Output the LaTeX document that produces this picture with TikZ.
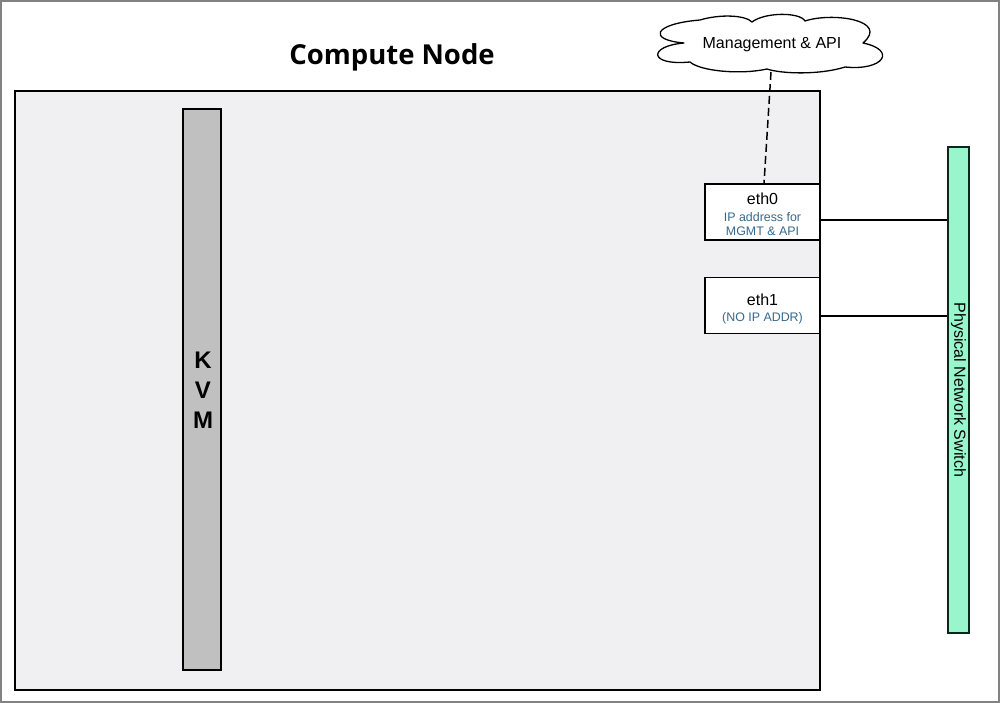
\documentclass[tikz,border=0pt]{standalone}
\usepackage{fontspec}
\setmainfont{Liberation Sans}
\newfontfamily\titlefont{Open Sans}
\definecolor{nodefill}{RGB}{240,240,242}
\definecolor{kvmfill}{RGB}{192,192,192}
\definecolor{swfill}{RGB}{153,245,204}
\definecolor{swline}{RGB}{10,40,25}
\definecolor{iptext}{RGB}{55,105,140}
\definecolor{framegray}{RGB}{130,130,130}
\tikzset{
  boxline/.style={draw=black, line width=1.5pt},
  ethbox/.style={boxline, fill=white, minimum width=115pt, minimum height=56pt, inner sep=0pt},
  link/.style={draw=black, line width=1.5pt},
  lbl/.style={font=\fontsize{16}{18}\selectfont, inner sep=0pt},
  iplbl/.style={font=\fontsize{12.4}{14.5}\selectfont, text=iptext, align=center, inner sep=0pt},
}
\begin{document}
\begin{tikzpicture}[x=1pt,y=-1pt]
\useasboundingbox (0,0) rectangle (1000,703);
\draw[framegray, line width=2pt] (1,1) rectangle (999,702);
% compute node
\node[boxline, fill=nodefill, minimum width=805pt, minimum height=599pt, inner sep=0pt] (cn) at (417.5,390.5) {};
\node[font=\titlefont\bfseries\fontsize{27.5}{30}\selectfont] (title) at (392,57) {Compute Node};
% KVM
\node[boxline, fill=kvmfill, minimum width=38pt, minimum height=561pt, inner sep=0pt] (kvm) at (202,389.5) {};
\node[font=\bfseries\fontsize{24}{30}\selectfont, align=center] (kvmt) at (203,390) {K\\[0pt]V\\[0pt]M};
% eth boxes
\node[ethbox] (eth0) at (762.5,212) {};
\node[lbl] (eth0t) at (762.5,199) {eth0};
\node[iplbl] (eth0ip) at (762.5,224) {IP address for\\MGMT \& API};
\node[ethbox] (eth1) at (762.5,305.5) {};
\node[lbl] (eth1t) at (762.5,299.5) {eth1};
\node[iplbl] (eth1ip) at (762.5,318) {(NO IP ADDR)};
% switch
\node[draw=swline, line width=1.5pt, fill=swfill, minimum width=21pt, minimum height=486pt, inner sep=0pt] (sw) at (958.5,390) {};
\node[rotate=-90, lbl] (swt) at (958.5,390) {Physical Network Switch};
% cloud
\draw[black, line width=1.3pt, fill=white, line join=round]
  (684,43) .. controls (648,40) and (652,24) .. (700,20)
  .. controls (720,14) and (745,15) .. (752,22)
  .. controls (765,12) and (800,12) .. (805,21)
  .. controls (832,12) and (890,20) .. (863,43)
  .. controls (897,50) and (884,71) .. (845,67)
  .. controls (820,75) and (782,74) .. (767,69)
  .. controls (740,75) and (700,71) .. (690,62)
  .. controls (648,66) and (648,46) .. (684,43) -- cycle;
\node[lbl] (cloud) at (772,45) {Management \& API};
\coordinate (cloudbot) at (771,72);
% links
\draw[link] ([yshift=-8pt]eth0.east) -- ([yshift=-8pt]eth0.east -| sw.west);
\draw[link] ([yshift=-10.5pt]eth1.east) -- ([yshift=-10.5pt]eth1.east -| sw.west);
\draw[black, line width=1.5pt, dash pattern=on 8pt off 4pt] (cloudbot) -- ([xshift=1.5pt]eth0.north);
\end{tikzpicture}
\end{document}
